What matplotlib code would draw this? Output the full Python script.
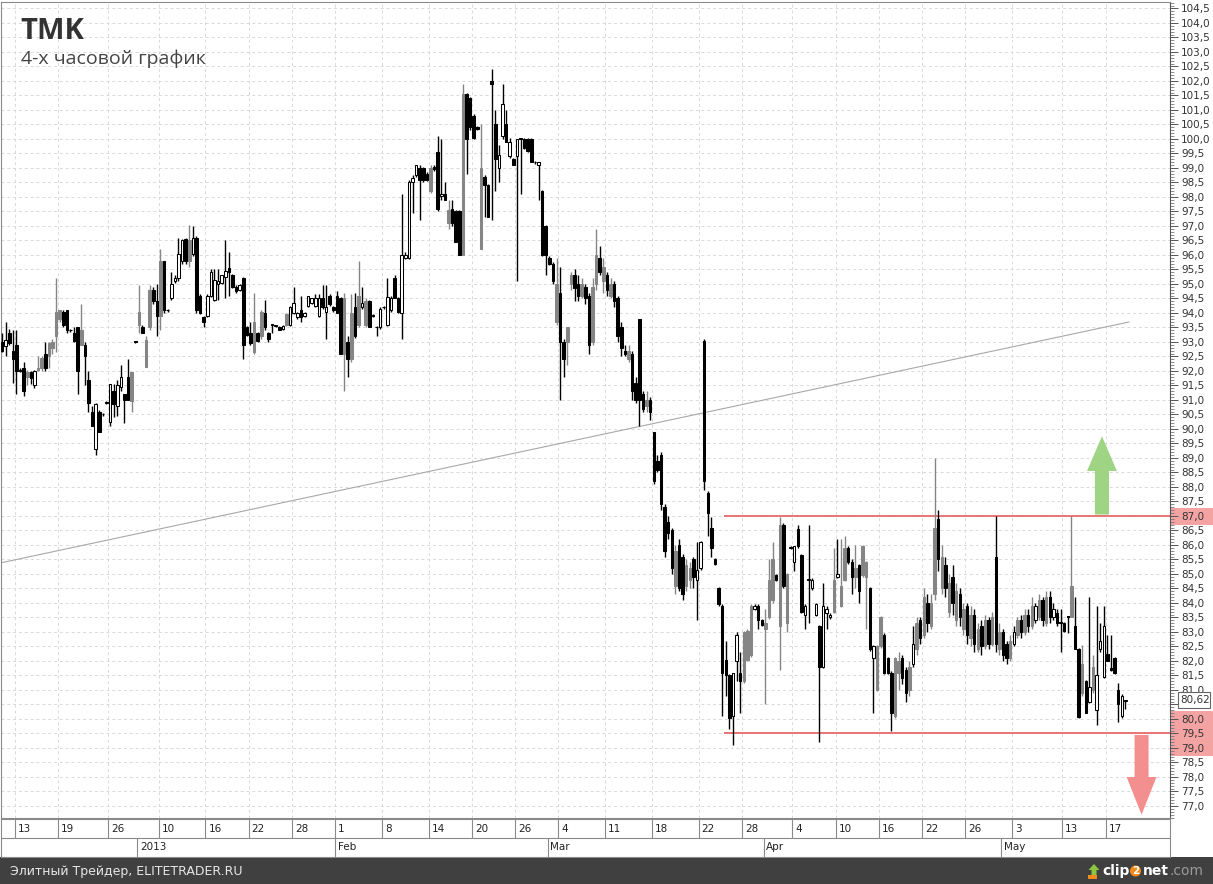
import numpy as np
import matplotlib.pyplot as plt
from matplotlib.patches import Rectangle, FancyArrow
from matplotlib.ticker import MultipleLocator, FuncFormatter

# 4h candles, (kind, open, high, low, close); k = black (down), w = white (up), g = gray
dec_bars = [
    ('k', 93.0, 93.3, 92.65, 92.7), ('w', 92.85, 93.7, 92.5, 93.07), ('k', 93.3, 93.45, 92.9, 92.98),
    ('k', 92.7, 93.4, 91.6, 92.4), ('k', 92.9, 93.4, 91.2, 92.0), ('k', 92.05, 92.1, 91.95, 92.0),
    ('k', 92.1, 92.3, 91.15, 91.3), ('g', 91.8, 92.05, 91.5, 91.95), ('k', 91.95, 92.0, 91.55, 91.75),
    ('w', 91.5, 92.05, 91.4, 92.0), ('g', 92.05, 92.5, 92.0, 92.1), ('g', 92.1, 92.5, 92.0, 92.45),
    ('k', 92.6, 93.0, 92.0, 92.1), ('g', 92.5, 93.0, 92.1, 92.95), ('g', 92.8, 93.1, 92.6, 93.0),
    ('g', 93.2, 95.2, 92.65, 94.05), ('g', 93.8, 94.1, 93.7, 94.1), ('k', 94.05, 94.1, 93.5, 93.6),
    ('k', 94.1, 94.1, 93.3, 93.4), ('k', 93.4, 93.45, 93.35, 93.4), ('k', 93.3, 93.5, 93.0, 93.05),
    ('k', 93.5, 93.5, 91.2, 92.0), ('g', 92.9, 94.3, 92.9, 93.4), ('k', 92.9, 93.0, 91.5, 92.5),
    ('k', 91.7, 92.0, 90.6, 90.9), ('k', 90.6, 90.8, 90.1, 90.1), ('w', 89.3, 90.9, 89.1, 90.85),
    ('k', 90.6, 90.65, 89.9, 89.9), ('k', 90.5, 90.55, 90.45, 90.5), ('k', 90.9, 90.95, 90.85, 90.9),
    ('w', 90.25, 91.55, 90.1, 91.55), ('k', 91.3, 91.55, 90.4, 90.85), ('w', 90.8, 91.7, 90.45, 91.5),
    ('w', 91.45, 92.2, 91.3, 91.8), ('k', 91.2, 91.2, 90.2, 91.0), ('k', 91.8, 92.4, 91.0, 91.0),
    ('g', 90.95, 91.95, 90.6, 91.95), ('k', 93.0, 93.05, 92.95, 93.0),
]
jan_bars = [
    ('g', 93.6, 94.95, 93.3, 94.05), ('k', 93.5, 93.6, 93.3, 93.3), ('g', 92.15, 93.2, 92.15, 93.07),
    ('g', 93.5, 94.95, 93.4, 94.8), ('k', 94.8, 94.9, 94.3, 94.4), ('k', 94.4, 95.0, 93.2, 93.9),
    ('g', 93.9, 96.2, 93.4, 95.8), ('k', 95.8, 95.8, 94.0, 94.1), ('k', 94.1, 94.15, 94.05, 94.1),
    ('w', 94.5, 95.4, 94.45, 95.0), ('w', 95.1, 95.3, 95.05, 95.2), ('w', 95.2, 96.6, 95.1, 96.05),
    ('w', 95.8, 96.55, 95.7, 96.5), ('k', 96.55, 96.6, 95.7, 95.8), ('g', 95.8, 97.05, 95.6, 96.5),
    ('w', 96.05, 97.0, 95.95, 96.6), ('k', 96.6, 96.65, 94.0, 94.1), ('k', 94.6, 94.65, 93.95, 94.0),
    ('k', 93.85, 93.9, 93.5, 93.7), ('w', 93.9, 94.65, 93.85, 94.6), ('w', 94.6, 95.5, 94.55, 95.4),
    ('w', 94.45, 95.5, 94.4, 95.15), ('w', 95.0, 95.5, 94.45, 95.1), ('w', 95.05, 95.3, 95.0, 95.3),
    ('w', 95.25, 96.5, 94.5, 95.45), ('k', 95.55, 96.1, 94.6, 95.4), ('k', 95.3, 95.35, 94.85, 94.9),
    ('k', 94.9, 94.95, 94.7, 94.75), ('w', 94.8, 95.0, 94.75, 94.95), ('k', 95.2, 95.25, 92.4, 92.9),
    ('k', 93.5, 93.55, 93.2, 93.25), ('k', 93.3, 93.7, 92.9, 92.95), ('g', 92.65, 94.7, 92.6, 93.7),
    ('k', 93.3, 93.35, 93.0, 93.05), ('g', 93.2, 94.1, 93.1, 94.05), ('k', 94.0, 94.45, 93.4, 93.5),
    ('k', 93.3, 93.35, 93.0, 93.1), ('k', 93.6, 93.6, 93.3, 93.6), ('k', 93.55, 93.6, 93.5, 93.55),
    ('k', 93.5, 93.55, 93.4, 93.4), ('w', 93.45, 93.6, 93.4, 93.55), ('g', 93.6, 94.0, 93.55, 93.95),
    ('w', 93.6, 94.25, 93.55, 94.2), ('w', 94.0, 94.9, 93.95, 94.35), ('w', 93.85, 94.05, 93.8, 94.0),
    ('k', 94.1, 94.6, 93.7, 93.85), ('w', 93.9, 94.05, 93.85, 94.0), ('w', 94.25, 94.6, 94.2, 94.6),
    ('w', 94.35, 94.5, 94.3, 94.5), ('w', 94.25, 94.65, 94.2, 94.5), ('w', 93.9, 94.65, 93.85, 94.5),
    ('k', 94.5, 94.95, 94.15, 94.2), ('w', 94.05, 94.95, 93.1, 94.2), ('k', 94.6, 94.65, 94.25, 94.3),
    ('k', 94.2, 94.25, 94.05, 94.1),
]
feb_bars = [
    ('k', 94.6, 94.75, 94.0, 94.0), ('k', 94.5, 94.55, 92.6, 92.6), ('g', 92.6, 94.7, 91.3, 94.5),
    ('k', 93.0, 93.2, 91.8, 92.4), ('g', 92.4, 94.65, 92.3, 94.0), ('k', 94.2, 94.7, 93.15, 93.2),
    ('g', 93.6, 95.8, 93.5, 94.6), ('w', 94.2, 94.9, 94.15, 94.35), ('g', 93.6, 94.5, 93.5, 94.4),
    ('k', 94.4, 94.45, 93.5, 93.5), ('k', 93.9, 93.95, 93.85, 93.9), ('k', 93.5, 93.55, 93.2, 93.5),
    ('w', 93.5, 94.2, 93.45, 94.15), ('k', 94.2, 94.25, 94.15, 94.2), ('w', 93.6, 95.2, 93.55, 94.55),
    ('w', 94.1, 94.6, 94.05, 94.5), ('k', 95.2, 95.3, 94.5, 94.5), ('k', 94.5, 94.55, 94.0, 94.05),
    ('w', 94.0, 98.1, 93.1, 96.0), ('w', 95.9, 96.1, 95.85, 96.0), ('w', 95.9, 98.6, 95.85, 98.5),
    ('w', 98.5, 98.75, 97.45, 98.65), ('w', 98.75, 99.1, 98.7, 99.1), ('k', 99.0, 99.1, 97.2, 98.6),
    ('k', 99.0, 99.05, 98.5, 98.6), ('k', 98.8, 98.85, 98.55, 98.6), ('g', 98.2, 99.1, 98.15, 99.0),
    ('k', 99.05, 99.1, 98.9, 98.95), ('k', 99.55, 100.1, 97.5, 97.6), ('w', 98.05, 100.0, 97.9, 98.12),
    ('k', 98.1, 98.5, 97.9, 97.9), ('g', 97.1, 97.9, 96.9, 97.55), ('k', 97.6, 97.9, 97.0, 97.1),
    ('k', 97.5, 97.55, 96.45, 96.45), ('k', 97.5, 97.55, 96.0, 96.0), ('g', 96.0, 101.9, 96.0, 101.55),
    ('k', 101.55, 101.6, 98.8, 100.0), ('k', 101.4, 101.45, 100.3, 100.4), ('k', 100.8, 100.85, 100.0, 100.05),
    ('k', 100.4, 100.45, 100.3, 100.35), ('g', 96.2, 100.5, 96.2, 99.0), ('k', 98.7, 98.75, 97.3, 98.4),
    ('k', 98.4, 98.45, 97.3, 97.3), ('k', 102.0, 102.4, 97.2, 101.9), ('k', 100.5, 101.0, 98.2, 99.3),
    ('w', 99.0, 99.8, 98.5, 99.45), ('w', 100.1, 101.9, 100.0, 101.2), ('k', 100.5, 101.0, 99.9, 99.9),
    ('w', 99.4, 100.05, 99.35, 99.9), ('k', 99.3, 99.35, 99.1, 99.1), ('w', 99.4, 100.0, 95.1, 100.0),
    ('k', 100.0, 100.0, 98.1, 100.0), ('k', 100.0, 100.05, 99.65, 99.7), ('k', 100.0, 100.05, 99.55, 99.6),
    ('k', 100.0, 100.05, 99.2, 99.2), ('k', 99.2, 99.25, 99.15, 99.2), ('w', 99.1, 99.2, 97.9, 99.2),
    ('k', 98.2, 98.25, 95.95, 96.0),
]
mar_bars = [
    ('k', 97.0, 97.05, 95.3, 96.0), ('k', 95.9, 95.95, 95.65, 95.7), ('k', 95.7, 95.75, 95.0, 95.1),
    ('g', 93.7, 95.9, 93.6, 95.0), ('k', 94.7, 95.6, 91.0, 93.0), ('k', 93.0, 93.1, 91.8, 92.4),
    ('g', 93.0, 93.5, 92.2, 93.5), ('g', 95.0, 95.4, 94.8, 95.3), ('k', 95.3, 95.5, 94.4, 94.85),
    ('k', 95.0, 95.3, 94.4, 94.6), ('g', 94.6, 95.2, 94.5, 95.0), ('k', 94.9, 95.0, 94.3, 94.5),
    ('k', 94.6, 94.7, 92.6, 92.9), ('g', 93.0, 95.2, 92.9, 94.9), ('g', 95.0, 96.9, 94.8, 96.0),
    ('k', 95.9, 96.3, 95.3, 95.4), ('g', 95.1, 95.9, 94.7, 95.6), ('k', 95.3, 95.4, 94.6, 94.8),
    ('g', 94.6, 95.2, 94.5, 95.0), ('k', 95.0, 95.1, 94.2, 94.4), ('k', 94.5, 94.6, 93.0, 93.2),
    ('k', 93.5, 93.7, 92.5, 92.8), ('k', 92.7, 92.9, 92.5, 92.6), ('g', 92.4, 92.9, 92.3, 92.7),
    ('k', 92.6, 92.7, 91.0, 91.3), ('k', 91.6, 91.8, 90.9, 91.0), ('k', 93.8, 93.8, 90.1, 91.0),
    ('k', 91.2, 91.3, 90.6, 90.7), ('g', 90.8, 91.3, 90.6, 91.0), ('k', 91.0, 91.1, 90.3, 90.6),
    ('k', 89.9, 89.9, 88.1, 88.2), ('k', 88.9, 89.1, 88.5, 88.6), ('k', 89.1, 89.2, 87.2, 87.4),
    ('k', 87.3, 87.4, 85.6, 85.8), ('k', 86.8, 87.0, 86.2, 86.4), ('k', 86.5, 86.6, 85.0, 85.2),
    ('g', 84.6, 86.0, 84.3, 85.8), ('k', 86.0, 86.2, 84.4, 84.5), ('k', 85.6, 85.7, 84.1, 84.3),
    ('g', 84.6, 85.5, 84.4, 85.3), ('g', 84.8, 85.4, 84.5, 85.2), ('k', 85.5, 85.6, 84.5, 84.9),
    ('w', 84.8, 86.1, 83.4, 85.15), ('w', 85.2, 86.15, 85.15, 86.1), ('k', 93.05, 93.1, 87.9, 88.2),
    ('k', 87.8, 87.85, 86.3, 87.1), ('k', 86.6, 86.95, 85.6, 85.9), ('k', 85.5, 85.55, 85.3, 85.35),
    ('k', 84.5, 84.55, 83.9, 83.95), ('k', 83.9, 83.95, 80.1, 81.6), ('k', 82.05, 82.7, 80.8, 81.5),
    ('k', 81.5, 81.55, 79.65, 80.05), ('w', 80.1, 81.6, 79.1, 81.6), ('w', 82.0, 83.0, 81.3, 82.9),
    ('k', 81.6, 82.3, 80.2, 81.3), ('g', 81.3, 83.05, 81.25, 83.0), ('g', 82.05, 83.1, 82.0, 83.05),
    ('g', 82.2, 83.95, 82.15, 83.9), ('w', 83.8, 83.95, 83.75, 83.9), ('k', 83.9, 83.95, 83.1, 83.4),
]
apr_bars = [
    ('k', 83.4, 83.45, 83.2, 83.25), ('g', 83.1, 83.8, 80.5, 83.3), ('g', 83.5, 85.5, 83.45, 84.8),
    ('g', 84.1, 86.1, 84.0, 85.5), ('k', 84.95, 85.0, 84.75, 84.8), ('g', 83.2, 86.98, 81.7, 86.7),
    ('k', 86.7, 86.75, 84.5, 84.6), ('g', 83.3, 85.05, 83.0, 85.0), ('k', 85.9, 85.95, 85.85, 85.9),
    ('w', 85.4, 85.95, 85.1, 85.95), ('k', 86.55, 86.7, 85.9, 85.95), ('k', 85.65, 85.7, 83.65, 83.7),
    ('w', 83.6, 83.95, 83.1, 83.9), ('k', 84.8, 86.7, 83.3, 84.8), ('w', 84.5, 84.85, 84.45, 84.8),
    ('w', 83.6, 84.0, 83.55, 83.95), ('k', 83.2, 83.25, 79.2, 81.8), ('w', 81.8, 84.7, 81.75, 83.9),
    ('w', 83.65, 83.9, 83.1, 83.8), ('w', 83.5, 83.65, 83.45, 83.6), ('g', 83.7, 85.9, 83.65, 84.8),
    ('w', 84.9, 86.2, 84.85, 85.0), ('g', 83.9, 86.2, 83.85, 84.6), ('g', 84.8, 86.3, 84.75, 85.9),
    ('k', 85.9, 85.95, 85.35, 85.4), ('k', 85.4, 85.5, 84.3, 84.9), ('g', 84.9, 86.0, 84.5, 85.2),
    ('k', 85.3, 85.35, 84.0, 84.4), ('g', 84.95, 86.0, 84.9, 85.95), ('g', 84.9, 85.45, 83.1, 85.4),
    ('k', 84.5, 84.55, 82.35, 82.4), ('w', 82.1, 82.55, 80.2, 82.5), ('g', 81.0, 82.55, 80.95, 82.5),
    ('g', 82.5, 83.55, 82.45, 83.5), ('k', 82.9, 82.95, 81.55, 81.6), ('k', 82.1, 82.15, 81.55, 81.6),
    ('k', 81.6, 81.65, 79.6, 80.2), ('g', 80.1, 82.15, 80.05, 82.1), ('g', 81.6, 82.3, 81.0, 82.0),
    ('k', 82.1, 82.2, 81.2, 81.4), ('k', 81.7, 81.8, 80.6, 80.9), ('g', 81.0, 82.0, 80.8, 81.8),
    ('w', 81.9, 83.2, 81.8, 82.6), ('g', 82.4, 83.5, 82.2, 83.3), ('k', 83.4, 83.5, 82.6, 82.8),
    ('g', 82.9, 84.5, 82.8, 84.2), ('k', 84.0, 84.3, 83.0, 83.3), ('g', 83.2, 84.3, 83.1, 84.0),
    ('g', 84.3, 89.0, 84.1, 86.6), ('k', 86.9, 87.2, 85.1, 85.5), ('g', 84.5, 86.0, 84.3, 85.6),
    ('k', 85.3, 85.6, 84.2, 84.5), ('g', 83.7, 85.0, 83.5, 84.7), ('k', 84.9, 85.3, 83.6, 84.0),
    ('g', 83.4, 84.7, 83.2, 84.4), ('k', 84.3, 84.5, 83.2, 83.5), ('g', 83.1, 84.0, 82.9, 83.8),
    ('k', 83.9, 84.0, 82.6, 82.9), ('g', 82.8, 83.9, 82.5, 83.6), ('k', 83.6, 83.8, 82.3, 82.6),
    ('g', 82.4, 83.3, 82.3, 83.1), ('k', 83.2, 83.4, 82.2, 82.5), ('g', 82.5, 83.6, 82.4, 83.4),
    ('k', 83.4, 83.5, 82.4, 82.6), ('g', 82.6, 83.7, 82.5, 83.5), ('k', 85.6, 87.0, 82.3, 82.6),
]
may_bars = [
    ('g', 82.4, 83.3, 82.2, 83.0), ('k', 83.0, 83.1, 82.0, 82.2), ('k', 82.6, 82.7, 81.9, 82.1),
    ('g', 82.1, 82.9, 82.0, 82.7), ('w', 82.6, 83.2, 82.5, 83.0), ('g', 82.9, 83.5, 82.8, 83.4),
    ('k', 83.4, 83.6, 82.8, 83.0), ('g', 83.0, 83.8, 82.9, 83.6), ('k', 83.6, 83.8, 83.0, 83.2),
    ('g', 83.2, 84.2, 83.1, 83.9), ('w', 83.4, 84.0, 83.3, 83.9), ('g', 83.5, 84.3, 83.4, 84.1),
    ('k', 84.1, 84.2, 83.2, 83.4), ('g', 83.3, 84.4, 83.2, 84.2), ('k', 84.2, 84.4, 83.3, 83.5),
    ('w', 83.5, 84.0, 83.4, 83.8), ('k', 83.65, 83.8, 83.2, 83.3), ('k', 83.35, 83.8, 82.3, 83.3),
    ('k', 83.3, 83.35, 83.0, 83.05), ('k', 83.55, 83.55, 82.95, 83.5), ('g', 83.5, 87.0, 83.5, 84.6),
    ('k', 83.2, 84.2, 82.4, 82.4), ('k', 82.4, 82.45, 80.05, 80.08), ('g', 80.9, 82.55, 80.8, 81.9),
    ('k', 81.3, 81.35, 80.2, 80.2), ('w', 80.6, 84.2, 80.55, 81.1), ('g', 81.0, 82.2, 80.9, 81.8),
    ('w', 80.3, 83.9, 79.8, 81.5), ('w', 82.4, 83.3, 82.3, 82.7), ('w', 81.45, 83.9, 81.4, 83.2),
    ('k', 82.25, 82.9, 82.0, 82.0), ('k', 81.75, 82.9, 81.65, 81.7), ('k', 82.1, 82.15, 81.55, 81.6),
    ('k', 81.0, 81.25, 79.9, 80.5), ('w', 80.1, 80.85, 80.05, 80.8), ('w', 80.62, 80.65, 80.35, 80.62),
]

# bottom date scale: label and index of the first candle of that day / month
day_labels = ['13', '19', '26', '10', '16', '22', '28', '1', '8', '14', '20', '26', '4',
              '11', '18', '22', '28', '4', '10', '16', '22', '26', '3', '13', '17']
day_start = [4, 16, 30, 44, 57, 69, 81, 93, 106, 119, 131, 143, 155,
             168, 181, 194, 206, 220, 232, 244, 256, 268, 281, 295, 307]
month_labels = ['2013', 'Feb', 'Mar', 'Apr', 'May']
month_start = [38, 93, 152, 212, 278]

# analyst drawings
trend_pts = ([-0.5, 313.0], [85.38, 93.69])
resistance, support = 87.0, 79.5
level_from = 200.5
last_price = 80.62

bars = dec_bars + jan_bars + feb_bars + mar_bars + apr_bars + may_bars
kind = [b[0] for b in bars]
o = np.array([b[1] for b in bars])
h = np.array([b[2] for b in bars])
l = np.array([b[3] for b in bars])
c = np.array([b[4] for b in bars])
x = np.arange(len(bars))

W, H = 1213, 884
fig = plt.figure(figsize=(W / 100, H / 100), dpi=100)
fig.patch.set_facecolor('white')

XMIN, XMAX = -0.3, 324.4
YMIN, YMAX = 76.586, 104.724

ax = fig.add_axes([1 / W, 1 - 818 / H, 1169 / W, 816 / H])
ax.set_xlim(XMIN, XMAX)
ax.set_ylim(YMIN, YMAX)

# grid
for p in np.arange(77.0, 104.51, 0.5):
    ax.axhline(p, color='#d9d9d9', lw=0.7, ls=(0, (3, 3)), zorder=0)
for s in day_start:
    ax.axvline(s - 0.5, color='#d9d9d9', lw=0.7, ls=(0, (3, 3)), zorder=0)

# trend line and levels
ax.plot(*trend_pts, color='#a8a8a8', lw=0.8, zorder=1)
ax.hlines([resistance, support], level_from, XMAX, color='#e86a6a', lw=1.3, zorder=2)

# candles
fill = {'k': 'black', 'w': 'white', 'g': '#858585'}
edge = {'k': 'black', 'w': 'black', 'g': '#858585'}
ax.vlines(x, l, h, colors=[edge[k] for k in kind], lw=1.0, zorder=3)
body_lo = np.minimum(o, c)
body_h = np.maximum(np.abs(c - o), 0.02)
ax.bar(x, body_h, bottom=body_lo, width=0.68,
       color=[fill[k] for k in kind], edgecolor=[edge[k] for k in kind], lw=0.75, zorder=4)

# arrows
ax.add_patch(FancyArrow(305.5, 87.05, 0, 2.7, width=3.9, head_width=8.3, head_length=1.2,
                        length_includes_head=True, color='#9ed483', lw=0, zorder=5))
ax.add_patch(FancyArrow(316.5, 79.45, 0, -2.75, width=3.9, head_width=8.3, head_length=1.3,
                        length_includes_head=True, color='#f48f8f', lw=0, zorder=5))

# axes frame
for side in ['left', 'top', 'bottom']:
    ax.spines[side].set_color('#8a8a8a')
ax.spines['right'].set_color('#555555')
ax.set_xticks([])
ax.yaxis.tick_right()
ax.yaxis.set_major_locator(MultipleLocator(0.5))
ax.yaxis.set_minor_locator(MultipleLocator(0.1))


def price_fmt(v, _):
    # the 80,5 label sits under the last-price box
    if abs(v - 80.5) < 1e-6:
        return ''
    return f'{v:.1f}'.replace('.', ',')


ax.yaxis.set_major_formatter(FuncFormatter(price_fmt))
ax.tick_params(axis='y', which='major', length=6, width=0.7, color='#555555',
               labelsize=7.5, labelcolor='#333333', pad=2)
ax.tick_params(axis='y', which='minor', length=3, width=0.6, color='#777777')

# highlighted price labels on the scale
tr = ax.get_yaxis_transform()
ax.add_patch(Rectangle((1.0, 86.7), 0.037, 0.58, transform=tr, clip_on=False,
                       facecolor='#f4a3a3', edgecolor='none', zorder=0))
ax.add_patch(Rectangle((1.0, 78.72), 0.037, 1.56, transform=tr, clip_on=False,
                       facecolor='#f4a3a3', edgecolor='none', zorder=0))
ax.add_patch(Rectangle((1.0068, 80.39), 0.0275, 0.54, transform=tr, clip_on=False,
                       facecolor='white', edgecolor='#666666', lw=0.8, zorder=6))
ax.text(1.0085, 80.66, f'{last_price:.2f}'.replace('.', ','), transform=tr,
        fontsize=7.5, color='#333333', va='center', ha='left', clip_on=False, zorder=7)

# date scale
axd = fig.add_axes([1 / W, 1 - 857 / H, 1169 / W, 38 / H])
axd.set_xlim(XMIN, XMAX)
axd.set_ylim(0, 2)
axd.set_xticks([])
axd.set_yticks([])
for sp in axd.spines.values():
    sp.set_color('#8a8a8a')
axd.axhline(1, color='#8a8a8a', lw=0.8)
for s, lab in zip(day_start, day_labels):
    axd.vlines(s - 0.5, 1, 2, color='#8a8a8a', lw=0.8)
    axd.text(s + 0.3, 1.5, lab, fontsize=7.5, color='#222222', va='center', ha='left')
for s, lab in zip(month_start, month_labels):
    axd.vlines(s - 0.5, 0, 1, color='#8a8a8a', lw=0.8)
    axd.text(s + 0.3, 0.5, lab, fontsize=7.5, color='#222222', va='center', ha='left')

# title
fig.text(20 / W, 1 - 39 / H, 'TMK', fontsize=21, fontweight='bold', color='#333333',
         family='Open Sans', va='baseline')
fig.text(21 / W, 1 - 64 / H, '4-х часовой график', fontsize=14, color='#444444',
         family='Open Sans', va='baseline')

# footer band
fig.patches.append(Rectangle((0, 0), 1, 27 / H, transform=fig.transFigure,
                             facecolor='#404040', edgecolor='none', zorder=-1))
fig.text(10 / W, 13 / H, 'Элитный Трейдер, ELITETRADER.RU', fontsize=9, color='#e6e6e6',
         va='center')

# clip2net logo, pieces laid out one after another
fig.patches.append(FancyArrow(1094 / W, 7 / H, 0, 13 / H, width=5 / W, head_width=11 / W,
                              head_length=6 / H, length_includes_head=True,
                              transform=fig.transFigure, color='#8cc63f', lw=0))
fig.patches.append(Rectangle((1088 / W, 5 / H), 9 / W, 4 / H, transform=fig.transFigure,
                             facecolor='#f08a1c', edgecolor='none'))
renderer = fig.canvas.get_renderer()
pos = 1102
pieces = [('clip', 'white', 'bold', None), ('2', 'white', 'bold', '#f08a1c'),
          ('net', 'white', 'bold', None), ('.com', '#9a9a9a', 'normal', None)]
for txt, col, wt, bg in pieces:
    kw = {}
    if bg:
        kw['bbox'] = dict(boxstyle='circle,pad=0.05', facecolor=bg, edgecolor='none')
    t = fig.text((pos + (2 if bg else 0)) / W, 13 / H, txt, fontsize=10 if not bg else 7.5,
                 fontweight=wt, color=col, va='center', **kw)
    bb = t.get_window_extent(renderer)
    pos = bb.x1 + (4 if bg else 0.5)

fig.savefig('out.png', dpi=100)
